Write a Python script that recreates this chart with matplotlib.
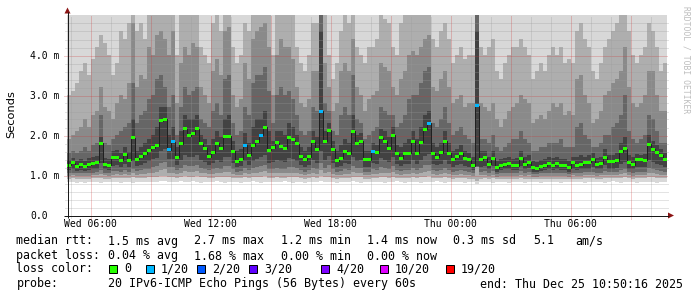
import matplotlib
matplotlib.use("Agg")
import matplotlib.pyplot as plt
from matplotlib.patches import Polygon, Rectangle
import matplotlib.transforms as mtransforms
import numpy as np

# ---------------- data ----------------
start_hour = 4.838          # Wed 04:50 (hours since Wed 00:00)
step_hours = 0.2            # 12 minute consolidation
span_hours = 30.0

median_ms = [
    1.24,1.31,1.21,1.26,1.22,1.26,1.29,1.32,1.79,1.26,1.24,1.43,1.43,1.37,1.52,1.37,1.93,1.39,1.46,1.53,1.62,1.68,1.73,2.36,2.40,1.63,
    1.83,1.44,1.78,2.16,1.98,2.03,2.16,1.78,1.67,1.46,1.56,1.80,1.66,1.97,1.97,1.59,1.34,1.39,1.74,1.49,1.73,1.83,1.99,2.20,1.62,
    1.68,1.81,1.71,1.67,1.93,1.88,1.78,1.46,1.38,1.46,1.83,1.65,2.59,1.84,2.12,1.64,1.36,1.42,1.59,1.53,2.09,1.79,1.85,1.38,1.38,
    1.59,1.56,1.93,1.85,1.66,2.00,1.53,1.42,1.53,1.54,1.84,1.55,1.82,2.14,2.29,1.54,1.44,1.56,1.85,1.55,1.39,1.46,1.55,1.41,1.38,
    1.23,2.73,1.38,1.43,1.27,1.42,1.18,1.23,1.26,1.28,1.23,1.23,1.42,1.26,1.32,1.18,1.17,1.21,1.23,1.28,1.24,1.28,1.23,1.23,1.18,
    1.31,1.24,1.26,1.32,1.32,1.39,1.27,1.30,1.45,1.33,1.33,1.36,1.58,1.66,1.32,1.26,1.38,1.38,1.37,1.77,1.64,1.56,1.49,1.38]

loss_pings = [
    0,0,0,0,0,0,0,0,0,0,0,0,0,0,0,0,0,0,0,0,0,0,0,0,0,
    1,1,0,0,0,0,0,0,0,0,0,0,0,0,0,0,0,0,0,1,0,0,0,1,0,
    0,0,0,0,0,0,0,0,0,0,0,0,0,1,0,0,0,0,0,0,0,0,0,0,0,
    0,1,0,0,0,0,0,0,0,0,0,0,0,0,0,1,0,0,0,0,0,0,0,0,0,
    0,0,1,0,0,0,0,0,0,0,0,0,0,0,0,0,0,0,0,0,0,0,0,0,0,
    0,0,0,0,0,0,0,0,0,0,0,0,0,0,0,0,0,0,0,0,0,0,0,0,0]

# smoke: sorted ping ranks (ms), upper side
ping_max_ms = 6.0
ping_p18 = [
    3.0,3.1,3.3,3.6,3.8,3.5,3.9,4.2,4.5,4.3,4.0,3.5,3.8,4.6,4.4,4.8,5.5,4.6,4.8,4.4,5.5,5.0,5.5,5.5,5.5,5.2,
    5.5,4.0,5.0,5.0,5.2,5.5,5.0,4.2,4.0,3.8,4.8,5.0,4.6,5.5,5.5,4.2,3.8,4.0,4.8,4.6,5.2,5.5,5.5,5.5,5.3,
    4.0,5.2,5.5,5.3,5.3,5.0,4.2,3.8,3.6,4.0,4.8,4.8,5.5,5.0,4.0,3.4,3.8,4.6,5.0,4.8,5.3,4.2,4.0,3.8,4.2,
    4.2,4.4,5.0,4.9,4.8,4.2,4.0,4.8,5.0,5.2,5.2,5.0,5.5,5.5,5.5,4.4,4.2,4.6,4.8,4.4,3.8,4.0,4.2,3.9,4.0,
    4.0,5.5,4.2,4.0,4.2,4.4,3.6,3.4,3.8,4.0,4.2,4.2,4.4,4.2,4.0,3.4,3.6,3.8,3.6,4.0,4.2,4.0,4.2,3.8,3.9,
    3.8,4.6,4.8,4.4,4.2,3.6,3.4,3.8,4.2,4.4,4.6,4.8,5.0,5.3,4.6,4.0,3.8,4.0,4.2,4.8,4.6,4.2,3.6,3.8]
ping_p16 = [
    1.9,2.0,2.1,2.2,2.4,2.2,2.5,2.6,3.2,2.7,2.6,2.4,2.8,3.0,2.9,3.3,4.8,3.2,3.5,3.4,4.2,4.0,4.5,4.6,4.4,4.0,
    4.6,2.8,3.8,4.2,4.0,4.3,4.2,3.2,3.0,2.8,3.6,3.9,3.5,4.6,4.7,3.0,2.7,2.9,3.8,3.4,4.4,4.6,4.7,4.8,4.2,
    3.0,4.0,4.4,4.2,4.2,3.9,3.2,2.8,2.7,2.9,3.6,3.6,5.5,3.8,3.2,2.6,2.8,3.6,3.8,3.6,4.4,3.2,3.0,2.6,2.9,
    3.0,3.1,3.8,3.7,3.6,3.2,3.0,3.4,3.6,4.0,4.1,4.0,4.2,4.4,4.5,3.2,3.1,3.4,3.6,3.2,2.8,2.9,3.0,2.7,2.8,
    2.8,5.5,2.8,2.7,2.6,2.8,2.4,2.2,2.4,2.6,2.7,2.8,3.0,2.9,2.8,2.3,2.4,2.5,2.4,2.6,2.8,2.7,2.8,2.5,2.6,
    2.5,3.4,3.5,3.0,2.8,2.3,2.4,2.6,3.0,3.1,3.3,3.4,3.6,4.2,3.2,2.8,2.7,2.8,3.0,3.6,3.6,3.0,2.6,2.6]
ping_p14 = [
    1.55,1.6,1.55,1.6,1.7,1.6,1.75,1.8,2.5,1.8,1.75,1.9,2.0,2.1,2.2,2.3,3.3,2.3,2.5,2.6,2.9,3.0,3.4,3.5,3.2,2.7,
    3.0,2.0,2.7,3.2,3.0,3.1,3.2,2.4,2.3,2.2,2.6,2.8,2.5,3.4,3.5,2.3,2.0,2.1,2.7,2.5,3.3,3.5,3.5,3.7,3.1,
    2.3,3.0,3.2,3.0,3.1,2.9,2.5,2.1,2.0,2.1,2.7,2.6,5.2,2.8,2.6,2.1,2.0,2.5,2.7,2.5,3.5,2.4,2.3,1.9,2.0,
    2.1,2.2,2.7,2.6,2.5,2.5,2.2,2.3,2.5,2.9,3.0,3.0,3.3,3.6,3.7,2.3,2.2,2.4,2.7,2.3,2.0,2.1,2.2,2.0,1.9,
    1.8,5.5,1.9,1.9,1.8,2.0,1.7,1.6,1.7,1.8,1.9,1.9,2.1,1.9,1.8,1.6,1.6,1.7,1.7,1.8,1.8,1.8,1.9,1.7,1.7,
    1.7,2.2,2.3,2.0,1.9,1.7,1.7,1.8,2.0,2.0,2.2,2.3,2.5,3.0,2.1,1.9,1.8,1.9,2.0,2.5,2.4,2.1,1.8,1.8]
ping_p12 = [
    1.38,1.42,1.35,1.4,1.36,1.42,1.45,1.48,1.95,1.42,1.4,1.6,1.62,1.55,1.7,1.58,2.4,1.6,1.7,1.8,1.9,2.0,2.2,2.7,2.7,2.0,
    2.2,1.7,2.1,2.5,2.4,2.4,2.5,2.0,1.9,1.75,1.9,2.1,1.95,2.4,2.5,1.85,1.6,1.65,2.05,1.8,2.2,2.4,2.4,2.6,2.1,
    1.85,2.1,2.1,2.0,2.3,2.2,2.0,1.7,1.6,1.7,2.1,1.95,4.6,2.1,2.3,1.85,1.6,1.75,1.9,1.8,2.5,2.0,2.05,1.6,1.6,
    1.8,1.75,2.15,2.1,1.95,2.2,1.75,1.7,1.8,1.9,2.1,1.9,2.2,2.5,2.6,1.8,1.7,1.8,2.1,1.8,1.6,1.65,1.75,1.6,1.55,
    1.45,4.6,1.6,1.6,1.45,1.6,1.35,1.4,1.42,1.45,1.4,1.42,1.6,1.45,1.5,1.35,1.33,1.38,1.4,1.45,1.42,1.45,1.4,1.4,1.35,
    1.45,1.45,1.5,1.45,1.5,1.55,1.42,1.45,1.65,1.5,1.5,1.55,1.8,1.95,1.5,1.45,1.52,1.5,1.52,2.0,1.85,1.75,1.65,1.55]

# lower side
ping_p9 = [
    1.12,1.15,1.1,1.12,1.1,1.12,1.15,1.16,1.3,1.14,1.12,1.22,1.24,1.2,1.28,1.2,1.35,1.22,1.26,1.3,1.35,1.4,1.42,1.6,1.65,1.4,
    1.4,1.25,1.38,1.5,1.45,1.45,1.5,1.38,1.32,1.25,1.3,1.38,1.32,1.45,1.45,1.3,1.2,1.22,1.35,1.26,1.35,1.4,1.45,1.5,1.3,
    1.32,1.38,1.34,1.32,1.42,1.4,1.36,1.25,1.2,1.25,1.38,1.3,1.6,1.38,1.48,1.3,1.2,1.22,1.3,1.28,1.45,1.36,1.38,1.2,1.2,
    1.3,1.28,1.42,1.38,1.32,1.45,1.28,1.22,1.28,1.28,1.38,1.28,1.38,1.48,1.52,1.28,1.24,1.28,1.38,1.28,1.2,1.24,1.28,1.22,1.2,
    1.12,1.22,1.2,1.22,1.15,1.22,1.08,1.12,1.14,1.15,1.12,1.12,1.22,1.14,1.18,1.08,1.08,1.1,1.12,1.15,1.12,1.15,1.12,1.12,1.08,
    1.15,1.12,1.14,1.16,1.16,1.2,1.14,1.15,1.24,1.16,1.16,1.18,1.28,1.32,1.16,1.14,1.2,1.2,1.2,1.38,1.32,1.28,1.25,1.2]
ping_p7 = [
    1.05,1.06,1.04,1.05,1.04,1.05,1.06,1.07,1.12,1.06,1.05,1.1,1.1,1.08,1.12,1.08,1.15,1.1,1.12,1.14,1.16,1.2,1.22,1.3,1.32,1.2,
    1.2,1.12,1.18,1.25,1.22,1.22,1.25,1.18,1.15,1.12,1.14,1.18,1.15,1.22,1.22,1.14,1.08,1.1,1.17,1.12,1.17,1.2,1.22,1.25,1.15,
    1.15,1.18,1.16,1.15,1.2,1.19,1.17,1.12,1.08,1.12,1.18,1.14,1.3,1.18,1.24,1.14,1.08,1.1,1.14,1.12,1.22,1.17,1.18,1.08,1.08,
    1.14,1.13,1.2,1.18,1.15,1.22,1.13,1.1,1.13,1.13,1.18,1.13,1.18,1.24,1.26,1.13,1.1,1.13,1.18,1.13,1.08,1.1,1.13,1.1,1.08,
    1.05,1.21,1.08,1.1,1.06,1.1,1.03,1.05,1.06,1.06,1.05,1.05,1.1,1.06,1.08,1.03,1.03,1.04,1.05,1.06,1.05,1.06,1.05,1.05,1.03,
    1.06,1.05,1.06,1.07,1.07,1.08,1.06,1.06,1.1,1.07,1.07,1.08,1.12,1.15,1.07,1.06,1.08,1.08,1.08,1.18,1.15,1.12,1.1,1.08]
ping_p5 = [
    0.98,0.99,0.97,0.98,0.97,0.98,0.99,1.0,1.02,0.99,0.98,1.01,1.02,1.0,1.03,1.0,1.04,1.01,1.02,1.03,1.04,1.06,1.08,1.12,1.14,1.06,
    1.06,1.02,1.05,1.1,1.08,1.08,1.1,1.05,1.04,1.02,1.03,1.05,1.04,1.08,1.08,1.03,1.0,1.01,1.05,1.02,1.05,1.06,1.08,1.1,1.04,
    1.04,1.05,1.04,1.04,1.06,1.06,1.05,1.02,1.0,1.02,1.05,1.03,1.12,1.05,1.08,1.03,1.0,1.01,1.03,1.02,1.07,1.05,1.05,1.0,1.0,
    1.03,1.02,1.06,1.05,1.04,1.07,1.02,1.01,1.02,1.02,1.05,1.02,1.05,1.08,1.1,1.02,1.01,1.02,1.05,1.02,1.0,1.01,1.02,1.01,1.0,
    0.98,1.2,0.99,1.0,0.98,1.0,0.96,0.98,0.98,0.98,0.98,0.98,1.0,0.98,0.99,0.96,0.96,0.97,0.98,0.98,0.98,0.98,0.98,0.98,0.96,
    0.99,0.98,0.98,0.99,0.99,1.0,0.98,0.99,1.01,0.99,0.99,1.0,1.02,1.04,0.99,0.98,1.0,1.0,1.0,1.05,1.04,1.02,1.01,1.0]
ping_p3 = [
    0.91,0.92,0.9,0.91,0.9,0.9,0.92,0.92,0.93,0.91,0.9,0.92,0.93,0.92,0.93,0.92,0.94,0.92,0.93,0.93,0.94,0.95,0.96,0.98,0.98,0.95,
    0.95,0.93,0.94,0.97,0.96,0.96,0.97,0.94,0.94,0.93,0.93,0.94,0.94,0.96,0.96,0.93,0.92,0.92,0.94,0.93,0.94,0.95,0.96,0.97,0.93,
    0.93,0.94,0.93,0.93,0.95,0.95,0.94,0.92,0.91,0.92,0.94,0.93,0.98,0.94,0.96,0.93,0.91,0.92,0.93,0.92,0.95,0.94,0.94,0.91,0.91,
    0.93,0.92,0.95,0.94,0.93,0.96,0.92,0.92,0.92,0.92,0.94,0.92,0.94,0.96,0.97,0.92,0.92,0.92,0.94,0.92,0.91,0.92,0.92,0.92,0.91,
    0.91,0.86,0.91,0.92,0.91,0.92,0.9,0.91,0.91,0.91,0.91,0.91,0.92,0.91,0.91,0.9,0.9,0.9,0.91,0.91,0.91,0.91,0.91,0.91,0.9,
    0.91,0.91,0.91,0.92,0.92,0.92,0.91,0.91,0.92,0.92,0.92,0.92,0.93,0.94,0.92,0.91,0.92,0.92,0.92,0.95,0.94,0.93,0.92,0.92]
ping_p1 = [
    0.83,0.82,0.8,0.82,0.81,0.82,0.83,0.82,0.8,0.82,0.82,0.83,0.82,0.81,0.83,0.82,0.8,0.82,0.83,0.82,0.82,0.83,0.82,0.84,0.84,0.83,
    0.83,0.82,0.84,0.82,0.83,0.84,0.82,0.81,0.82,0.83,0.82,0.84,0.82,0.8,0.82,0.83,0.82,0.81,0.82,0.83,0.84,0.82,0.81,0.82,0.83,
    0.82,0.83,0.82,0.84,0.82,0.81,0.83,0.82,0.8,0.82,0.83,0.82,0.84,0.82,0.83,0.82,0.81,0.82,0.83,0.82,0.84,0.82,0.8,0.82,0.83,
    0.82,0.83,0.82,0.81,0.83,0.82,0.84,0.82,0.8,0.82,0.83,0.82,0.81,0.82,0.83,0.82,0.84,0.82,0.81,0.82,0.83,0.82,0.82,0.81,0.82,
    0.82,0.78,0.82,0.83,0.82,0.81,0.82,0.83,0.82,0.81,0.82,0.83,0.82,0.8,0.82,0.83,0.82,0.81,0.82,0.83,0.82,0.82,0.81,0.82,0.83,
    0.82,0.83,0.82,0.81,0.82,0.83,0.82,0.82,0.81,0.82,0.84,0.82,0.8,0.82,0.83,0.82,0.81,0.82,0.83,0.82,0.82,0.81,0.82,0.83]

x_tick_hours = [6, 12, 18, 24, 30]
x_tick_labels = ["Wed 06:00", "Wed 12:00", "Wed 18:00", "Thu 00:00", "Thu 06:00"]
y_ticks = [0, 1, 2, 3, 4]
y_tick_labels = ["0.0", "1.0 m", "2.0 m", "3.0 m", "4.0 m"]

loss_levels = [0, 1, 2, 3, 4, 10, 19]
loss_labels = ["0", "1/20", "2/20", "3/20", "4/20", "10/20", "19/20"]
loss_colors = ["#26ff00", "#00b8ff", "#0059ff", "#5e00ff", "#7e00ff", "#dd00ff", "#ff0000"]

legend_rows = [
    ["median rtt:", "1.5 ms avg", "2.7 ms max", "1.2 ms min", "1.4 ms now", "0.3 ms sd", "5.1", "am/s"],
    ["packet loss:", "0.04 % avg", "1.68 % max", "0.00 % min", "0.00 % now"],
]
probe_text = "20 IPv6-ICMP Echo Pings (56 Bytes) every 60s"
end_text = "end: Thu Dec 25 10:50:16 2025"

n = len(median_ms)
for arr in (loss_pings, ping_p18, ping_p16, ping_p14, ping_p12, ping_p9, ping_p7, ping_p5, ping_p3, ping_p1):
    assert len(arr) == n, len(arr)

# ---------------- layout ----------------
W, H = 697, 297
fig = plt.figure(figsize=(W / 100, H / 100), dpi=100)
fig.patch.set_facecolor("white")
PL, PR, PT, PB = 67, 667, 15, 215
ax = fig.add_axes([PL / W, 1 - PB / H, (PR - PL) / W, (PB - PT) / H])
ax.set_xlim(start_hour, start_hour + span_hours)
ax.set_ylim(0, 5)
ax.set_facecolor("white")
for s in ax.spines.values():
    s.set_visible(False)

px = 0.72  # one pixel in points
MONO = "DejaVu Sans Mono"

edges = start_hour + step_hours * np.arange(n + 1)
med = np.array(median_ms)

# smoke bands, outer (light) to inner (dark)
bands = [
    (ping_p1, np.full(n, ping_max_ms), "#d8d8d8"),
    (ping_p3, ping_p18, "#aeaeae"),
    (ping_p5, ping_p16, "#8a8a8a"),
    (ping_p7, ping_p14, "#666666"),
    (ping_p9, ping_p12, "#424242"),
]
for lo, up, col in bands:
    ax.stairs(np.array(up), edges, baseline=np.array(lo), fill=True,
              color=col, lw=0, antialiased=False, zorder=1)

# grid (on top of smoke), shifted half a pixel so each dotted line sits on one pixel row/column
half_px = mtransforms.ScaledTranslation(0.5 / 100, -0.5 / 100, fig.dpi_scale_trans)
gtrans = ax.transData + half_px
minor_kw = dict(color="#9a9a9a", alpha=0.55, lw=px, linestyle=(0, (1, 1)),
                antialiased=True, zorder=3, clip_on=False, transform=gtrans,
                solid_capstyle="butt", dash_capstyle="butt")
major_kw = dict(color="#d03030", alpha=0.5, lw=px, linestyle=(0, (1, 1)),
                antialiased=True, zorder=3, clip_on=False, transform=gtrans,
                solid_capstyle="butt", dash_capstyle="butt")
ext_y = 3 * 5 / 200
ext_x = 3 * span_hours / 600
for k in range(1, 25):
    yv = 0.2 * k
    if k % 5 == 0:
        ax.plot([start_hour - ext_x, start_hour + span_hours], [yv, yv], **major_kw)
    else:
        ax.plot([start_hour - ext_x * 0.7, start_hour + span_hours], [yv, yv], **minor_kw)
for hr in range(5, 35):
    if hr % 3 == 0:
        ax.plot([hr, hr], [-ext_y, 5], **major_kw)
    else:
        ax.plot([hr, hr], [-ext_y * 0.7, 5], **minor_kw)

# median line and loss-coloured markers
ax.stairs(med, edges, baseline=None, color="#202020", lw=px, zorder=4)
cmap = dict(zip(loss_levels, loss_colors))
box_h = 3 * 5 / 200
ax.bar(edges[:-1], box_h, bottom=med - box_h / 2, width=step_hours, align="edge",
       color=[cmap[v] for v in loss_pings], lw=0, antialiased=False, zorder=5)

# ticks / labels
ax.set_xticks(x_tick_hours)
ax.set_xticklabels(x_tick_labels, fontfamily=MONO, fontsize=7.05)
ax.set_yticks(y_ticks)
ax.set_yticklabels(y_tick_labels, fontfamily=MONO, fontsize=7.05)
ax.tick_params(axis="x", length=0, pad=3.2)
ax.tick_params(axis="y", length=0, pad=26.6)
for t in ax.get_yticklabels():
    t.set_horizontalalignment("left")

# overlay in pixel coordinates for axis lines, arrows, legend
ov = fig.add_axes([0, 0, 1, 1], zorder=10)
ov.set_xlim(0, W)
ov.set_ylim(H, 0)
ov.axis("off")
ov.patch.set_alpha(0)
axis_col = "#1a1a1a"
arrow_col = "#8c1414"
ov.plot([64, 669], [215.5, 215.5], color=axis_col, lw=px, solid_capstyle="butt")
ov.plot([67.5, 67.5], [218, 12], color=axis_col, lw=px, solid_capstyle="butt")
ov.add_patch(Polygon([[64.5, 13.5], [70.5, 13.5], [67.5, 7.5]], closed=True, color=arrow_col, lw=0))
ov.add_patch(Polygon([[668, 212.5], [668, 218.5], [674, 215.5]], closed=True, color=arrow_col, lw=0))

ov.text(11, 114, "Seconds", rotation=90, ha="center", va="center",
        fontfamily="DejaVu Sans", fontsize=8.2, color="#000000")
ov.text(686, 60, "RRDTOOL / TOBI OETIKER", rotation=270, ha="center", va="center",
        fontfamily=MONO, fontsize=5.8, color="#bdbdbd")

LF = 8.4
row_y = [241, 256, 269, 284]
row1_x = [16.5, 108, 194, 281, 367, 453, 533, 575]
for xx, s in zip(row1_x, legend_rows[0]):
    ov.text(xx, row_y[0], s, ha="left", va="center", fontfamily=MONO, fontsize=LF)
for xx, s in zip(row1_x, legend_rows[1]):
    ov.text(xx, row_y[1], s, ha="left", va="center", fontfamily=MONO, fontsize=LF)

ov.text(16.5, row_y[2], "loss color:", ha="left", va="center", fontfamily=MONO, fontsize=LF)
box_x = [109, 146, 197, 249, 321, 380, 446]
for bx, lab, col in zip(box_x, loss_labels, loss_colors):
    ov.add_patch(Rectangle((bx, row_y[2] - 4), 8, 8, facecolor=col, edgecolor="#000000", lw=px))
    ov.text(bx + 15, row_y[2], lab, ha="left", va="center", fontfamily=MONO, fontsize=LF)

ov.text(16.5, row_y[3], "probe:", ha="left", va="center", fontfamily=MONO, fontsize=LF)
ov.text(108, row_y[3], probe_text, ha="left", va="center", fontfamily=MONO, fontsize=LF)
ov.text(480, row_y[3], end_text, ha="left", va="center", fontfamily=MONO, fontsize=LF)

fig.savefig("out.png", dpi=100, facecolor="white")
